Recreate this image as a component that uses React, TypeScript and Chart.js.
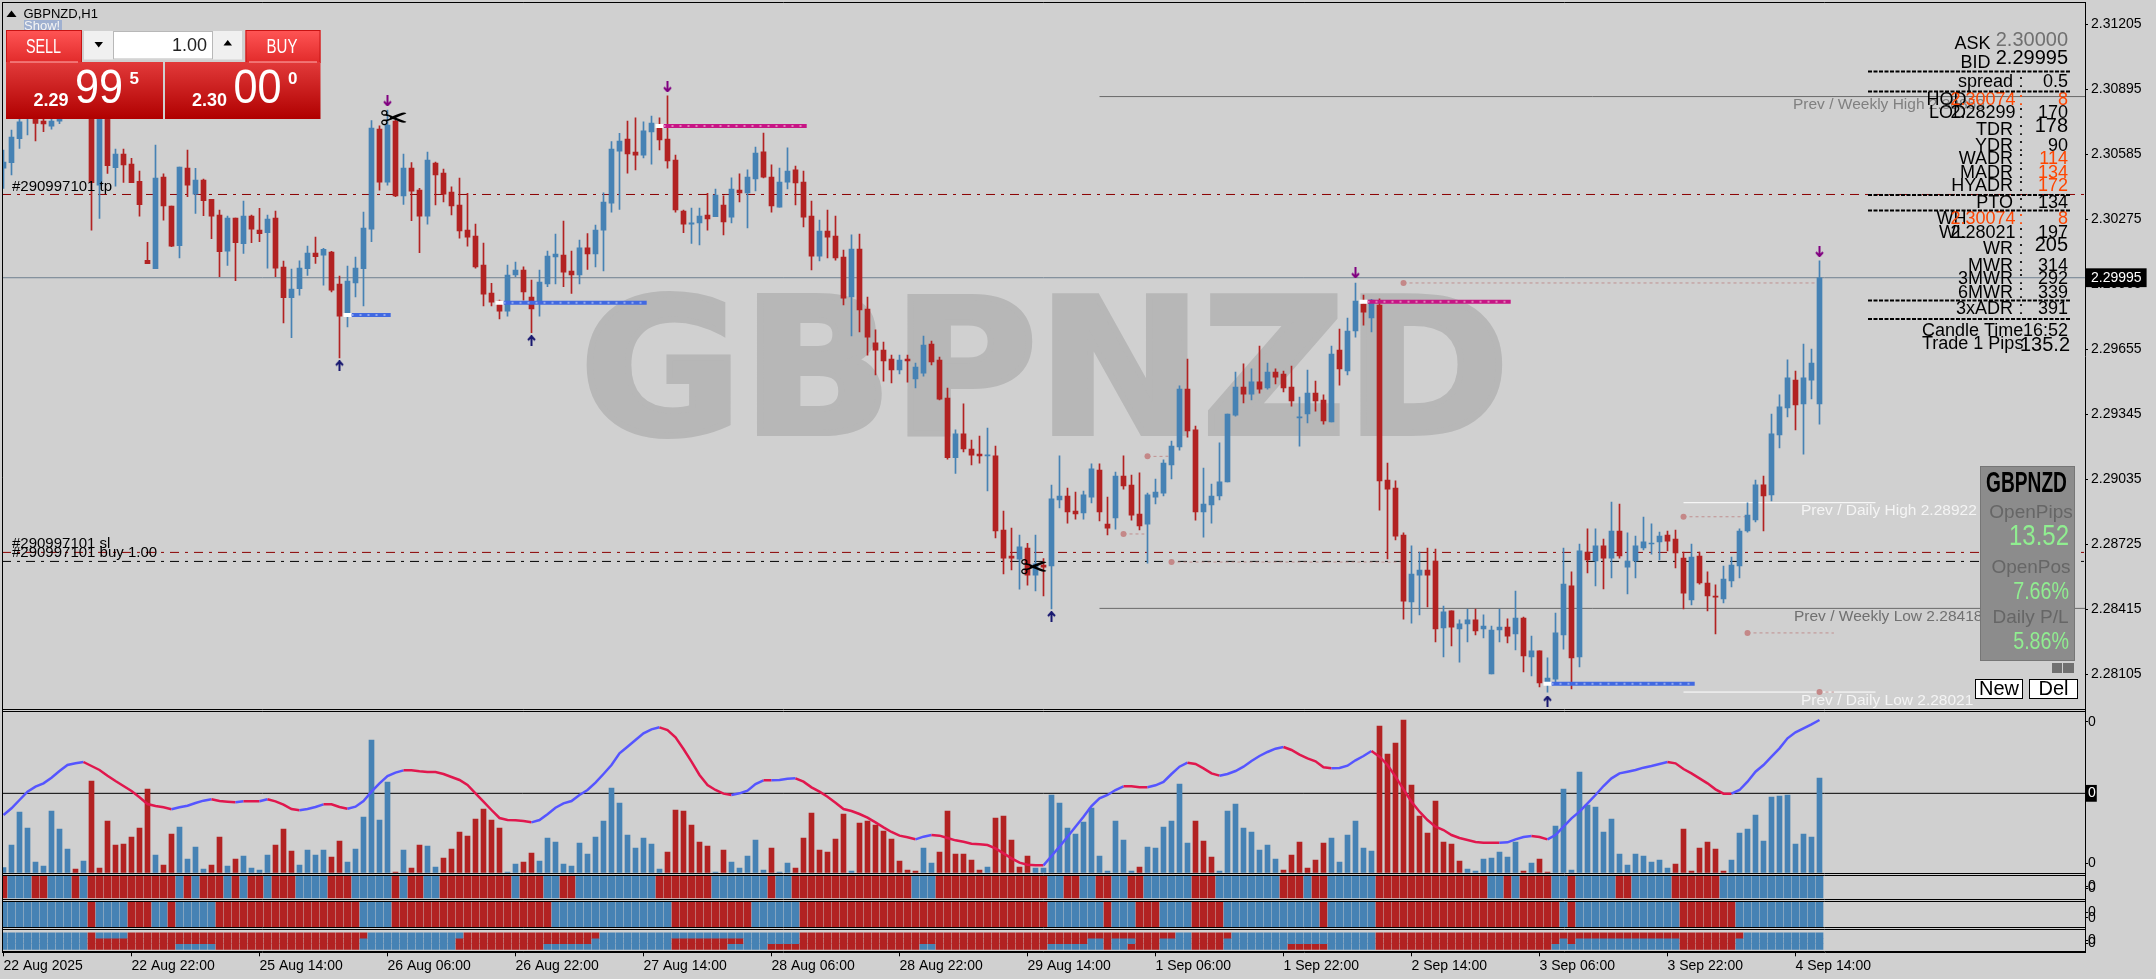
import React, { useEffect, useRef } from "react";
import { Chart, registerables } from "chart.js";
Chart.register(...registerables);

const tickLabels = ["22 Aug 2025","22 Aug 22:00","25 Aug 14:00","26 Aug 06:00","26 Aug 22:00","27 Aug 14:00","28 Aug 06:00","28 Aug 22:00","29 Aug 14:00","1 Sep 06:00","1 Sep 22:00","2 Sep 14:00","3 Sep 06:00","3 Sep 22:00","4 Sep 14:00"];
const priceTicks = [2.31205,2.30895,2.30585,2.30275,2.29965,2.29655,2.29345,2.29035,2.28725,2.28415,2.28105];
const currentPrice = 2.29995;

const opens = [
2.30517,2.30544,2.30658,2.30771,2.30779,2.30742,2.30718,2.30742,2.30790,2.30830,
2.30800,2.30860,2.30437,2.30790,2.30520,2.30585,2.30537,2.30455,2.30078,2.30038,
2.30475,2.30337,2.30148,2.30518,2.30393,2.30461,2.30369,2.30294,2.30122,2.30280,
2.30157,2.30289,2.30222,2.30210,2.30280,2.30046,2.29900,2.29943,2.30038,2.30113,
2.30103,2.30117,2.29965,2.29817,2.29970,2.30038,2.30227,2.30704,2.30451,2.30742,
2.30385,2.30518,2.30413,2.30289,2.30542,2.30494,2.30404,2.30342,2.30222,2.30194,
2.30055,2.29922,2.29884,2.29836,2.30008,2.30032,2.29903,2.29881,2.29965,2.30094,
2.30103,2.30027,2.30008,2.30137,2.30108,2.30222,2.30351,2.30599,2.30656,2.30594,
2.30580,2.30690,2.30718,2.30656,2.30556,2.30313,2.30251,2.30256,2.30294,2.30286,
2.30342,2.30284,2.30413,2.30399,2.30466,2.30595,2.30475,2.30332,2.30451,2.30509,
2.30451,2.30289,2.30098,2.30218,2.30194,2.30094,2.29903,2.30132,2.29846,2.29684,
2.29650,2.29607,2.29555,2.29607,2.29512,2.29540,2.29679,2.29602,2.29421,2.29137,
2.29250,2.29178,2.29154,2.29145,2.29145,2.28792,2.28668,2.28653,2.28706,2.28577,
2.28625,2.28620,2.28935,2.28954,2.28882,2.28873,2.28949,2.29078,2.28820,2.28849,
2.29049,2.29006,2.28868,2.28820,2.28949,2.28968,2.29102,2.29188,2.29464,2.29269,
2.28878,2.28911,2.28954,2.29021,2.29340,2.29474,2.29440,2.29498,2.29469,2.29545,
2.29536,2.29474,2.29326,2.29345,2.29445,2.29412,2.29307,2.29650,2.29550,2.29741,
2.29870,2.29803,2.29865,2.29030,2.28992,2.28768,2.28449,2.28577,2.28601,2.28644,
2.28325,2.28406,2.28320,2.28344,2.28363,2.28320,2.28105,2.28315,2.28329,2.28296,
2.28372,2.28186,2.28215,2.28067,2.28081,2.28291,2.28525,2.28186,2.28687,2.28644,
2.28716,2.28658,2.28787,2.28615,2.28644,2.28706,2.28725,2.28735,2.28768,2.28749,
2.28658,2.28458,2.28668,2.28539,2.28477,2.28463,2.28549,2.28620,2.28787,2.28840,
2.29007,2.28959,2.29245,2.29374,2.29507,2.29393,2.29507,2.29393];
const highs = [
2.30604,2.30699,2.30779,2.30827,2.30803,2.30771,2.30763,2.30820,2.30860,2.30850,
2.30890,2.30880,2.30820,2.30810,2.30609,2.30609,2.30564,2.30504,2.30164,2.30628,
2.30490,2.30337,2.30523,2.30604,2.30517,2.30466,2.30369,2.30318,2.30289,2.30280,
2.30361,2.30294,2.30326,2.30294,2.30313,2.30074,2.30036,2.30076,2.30146,2.30189,
2.30135,2.30121,2.30003,2.30051,2.30094,2.30308,2.30744,2.30720,2.30795,2.30747,
2.30585,2.30544,2.30421,2.30594,2.30547,2.30513,2.30429,2.30470,2.30397,2.30251,
2.30160,2.29968,2.29888,2.30055,2.30070,2.30047,2.29984,2.30032,2.30122,2.30203,
2.30265,2.30122,2.30175,2.30206,2.30246,2.30400,2.30644,2.30684,2.30742,2.30757,
2.30739,2.30766,2.30757,2.30862,2.30580,2.30318,2.30327,2.30327,2.30397,2.30418,
2.30385,2.30471,2.30490,2.30509,2.30618,2.30685,2.30533,2.30518,2.30614,2.30528,
2.30504,2.30361,2.30270,2.30318,2.30289,2.30127,2.30199,2.30203,2.29903,2.29746,
2.29688,2.29626,2.29626,2.29626,2.29588,2.29717,2.29693,2.29617,2.29469,2.29269,
2.29393,2.29221,2.29240,2.29278,2.29192,2.28882,2.28801,2.28768,2.28728,2.28768,
2.28655,2.29006,2.29145,2.28992,2.28973,2.28978,2.29107,2.29107,2.28949,2.29068,
2.29145,2.29054,2.29064,2.28968,2.29035,2.29126,2.29216,2.29479,2.29607,2.29288,
2.29087,2.29011,2.29207,2.29345,2.29545,2.29584,2.29560,2.29669,2.29588,2.29560,
2.29550,2.29574,2.29426,2.29555,2.29502,2.29436,2.29669,2.29750,2.29803,2.29970,
2.29912,2.29892,2.29894,2.29111,2.29026,2.28778,2.28716,2.28687,2.28706,2.28701,
2.28429,2.28406,2.28363,2.28415,2.28415,2.28387,2.28334,2.28415,2.28368,2.28501,
2.28377,2.28286,2.28215,2.28182,2.28396,2.28706,2.28592,2.28725,2.28797,2.28797,
2.28749,2.28925,2.28916,2.28778,2.28763,2.28854,2.28821,2.28782,2.28787,2.28792,
2.28687,2.28725,2.28687,2.28592,2.28530,2.28620,2.28663,2.28797,2.28921,2.29030,
2.29049,2.29345,2.29436,2.29603,2.29550,2.29679,2.29655,2.30075];
const lows = [
2.30421,2.30485,2.30612,2.30676,2.30648,2.30691,2.30703,2.30730,2.30770,2.30780,
2.30770,2.30222,2.30278,2.30493,2.30432,2.30450,2.30448,2.30289,2.30062,2.30038,
2.30270,2.30143,2.30090,2.30381,2.30302,2.30291,2.30181,2.30000,2.30054,2.29981,
2.30111,2.30162,2.30167,2.30041,2.30000,2.29780,2.29709,2.29912,2.30006,2.30063,
2.29960,2.29927,2.29613,2.29760,2.29904,2.29861,2.30167,2.30413,2.30437,2.30381,
2.30345,2.30267,2.30114,2.30251,2.30342,2.30356,2.30294,2.30184,2.30146,2.30041,
2.29860,2.29860,2.29798,2.29812,2.30000,2.29888,2.29733,2.29812,2.29952,2.29965,
2.29952,2.29920,2.29965,2.30035,2.30047,2.30027,2.30308,2.30321,2.30494,2.30509,
2.30566,2.30537,2.30604,2.30518,2.30308,2.30210,2.30159,2.30151,2.30222,2.30286,
2.30199,2.30256,2.30356,2.30232,2.30409,2.30471,2.30308,2.30332,2.30418,2.30342,
2.30237,2.30032,2.30075,2.30089,2.30079,2.29865,2.29717,2.29736,2.29626,2.29531,
2.29502,2.29493,2.29536,2.29497,2.29469,2.29526,2.29579,2.29412,2.29130,2.29062,
2.29164,2.29102,2.29111,2.28978,2.28754,2.28582,2.28601,2.28510,2.28529,2.28501,
2.28477,2.28415,2.28897,2.28825,2.28844,2.28844,2.28921,2.28835,2.28768,2.28796,
2.28987,2.28839,2.28792,2.28634,2.28916,2.28954,2.29035,2.29173,2.29235,2.28839,
2.28758,2.28825,2.28935,2.29021,2.29335,2.29398,2.29412,2.29445,2.29464,2.29488,
2.29450,2.29383,2.29192,2.29302,2.29359,2.29297,2.29307,2.29483,2.29531,2.29712,
2.29769,2.29736,2.28887,2.28654,2.28744,2.28367,2.28348,2.28387,2.28425,2.28258,
2.28186,2.28239,2.28162,2.28258,2.28291,2.28277,2.28105,2.28258,2.28253,2.28220,
2.28115,2.28096,2.28043,2.28019,2.28067,2.28224,2.28034,2.28139,2.28587,2.28525,
2.28511,2.28563,2.28658,2.28487,2.28563,2.28697,2.28677,2.28649,2.28692,2.28611,
2.28415,2.28434,2.28534,2.28406,2.28296,2.28444,2.28520,2.28563,2.28782,2.28830,
2.28787,2.28930,2.29183,2.29331,2.29269,2.29154,2.29417,2.29297];
const closes = [
2.30547,2.30666,2.30739,2.30795,2.30731,2.30728,2.30742,2.30790,2.30830,2.30800,
2.30860,2.30448,2.30790,2.30529,2.30585,2.30533,2.30448,2.30343,2.30062,2.30470,
2.30337,2.30146,2.30523,2.30437,2.30461,2.30362,2.30289,2.30119,2.30280,2.30162,
2.30289,2.30227,2.30205,2.30275,2.30041,2.29900,2.29941,2.30041,2.30113,2.30095,
2.30130,2.29936,2.29812,2.29979,2.30041,2.30232,2.30709,2.30451,2.30723,2.30385,
2.30518,2.30408,2.30289,2.30556,2.30485,2.30394,2.30337,2.30218,2.30189,2.30046,
2.29917,2.29879,2.29836,2.30008,2.30032,2.29927,2.29846,2.29974,2.30098,2.30108,
2.30022,2.30008,2.30137,2.30108,2.30222,2.30356,2.30609,2.30647,2.30585,2.30580,
2.30695,2.30733,2.30652,2.30552,2.30318,2.30251,2.30257,2.30289,2.30275,2.30389,
2.30261,2.30418,2.30399,2.30475,2.30590,2.30475,2.30337,2.30451,2.30504,2.30447,
2.30284,2.30098,2.30218,2.30189,2.30089,2.29898,2.30132,2.29841,2.29712,2.29650,
2.29598,2.29555,2.29602,2.29598,2.29569,2.29674,2.29593,2.29416,2.29137,2.29250,
2.29178,2.29149,2.29145,2.29149,2.28787,2.28658,2.28658,2.28711,2.28577,2.28630,
2.28615,2.28940,2.28954,2.28878,2.28868,2.28959,2.29083,2.28878,2.28801,2.29049,
2.29002,2.28863,2.28811,2.28959,2.28973,2.29111,2.29192,2.29464,2.29264,2.28878,
2.28916,2.28954,2.29021,2.29345,2.29474,2.29440,2.29498,2.29464,2.29545,2.29521,
2.29469,2.29407,2.29331,2.29445,2.29407,2.29312,2.29631,2.29560,2.29741,2.29884,
2.29831,2.29888,2.29026,2.28987,2.28763,2.28453,2.28582,2.28601,2.28577,2.28320,
2.28401,2.28329,2.28344,2.28363,2.28310,2.28334,2.28315,2.28329,2.28286,2.28372,
2.28191,2.28215,2.28062,2.28086,2.28301,2.28534,2.28182,2.28692,2.28649,2.28716,
2.28658,2.28787,2.28668,2.28644,2.28716,2.28735,2.28730,2.28763,2.28739,2.28682,
2.28491,2.28663,2.28539,2.28477,2.28472,2.28558,2.28625,2.28787,2.28863,2.29007,
2.28954,2.29250,2.29379,2.29517,2.29388,2.29517,2.29588,2.29995];

const volumes = [
14,82,181,133,31,19,184,130,70,10,34,274,13,154,82,85,106,133,250,52,
22,115,136,40,76,10,22,106,19,40,49,13,7,52,82,130,64,22,67,52,
67,46,94,31,70,166,397,157,271,1,67,13,82,79,16,43,70,121,109,160,
190,157,133,1,25,31,58,34,103,91,25,19,88,55,106,154,253,208,112,73,
103,85,10,61,187,184,142,91,79,1,67,31,13,49,97,7,73,1,28,13,
103,178,67,61,100,175,4,148,154,142,124,100,34,7,4,73,28,61,184,55,
55,37,7,16,163,169,97,16,49,13,13,232,208,133,115,151,193,49,4,154,
97,4,16,76,73,136,154,265,88,154,94,46,4,184,205,133,121,67,82,40,
7,52,91,13,37,88,103,31,112,154,73,64,439,355,388,457,262,169,118,214,
91,85,34,10,4,40,43,61,46,91,4,28,40,1,139,250,7,301,202,196,
121,160,55,22,55,49,31,37,13,25,130,4,73,91,70,4,37,118,130,172,
94,226,229,232,85,115,106,283];
const volumeRuns = "B9 R1 B1 R8 B1 R2 B4 R2 B1 R1 B4 R3 B4 R2 B6 R1 B1 R2 B2 R8 B2 R2 B16 R6 B1 R1 B5 R1 B2 R7 B1 R8 B2 R6 B1 R5 B13 R1 B6 R3 B8 R6 B6 R11 B7 R1 B1 R2 B15 R7 B12";
const signal = [
172,192,217,242,257,267,284,304,322,327,331,319,307,290,274,259,244,225,205,199,
195,189,195,200,208,215,219,214,212,210,213,213,213,219,213,203,190,186,190,196,
204,204,196,191,197,214,242,267,289,299,306,306,303,301,301,295,286,277,262,237,
212,187,163,157,156,154,150,157,174,194,207,214,232,247,269,295,322,357,377,397,
417,429,435,427,405,370,332,292,262,247,236,232,237,245,265,276,276,277,281,282,
272,255,242,227,209,190,184,175,164,150,135,121,110,105,99,107,112,110,103,96,
92,86,84,82,72,57,42,29,23,21,21,49,77,107,137,167,199,222,232,247,
258,258,255,255,261,271,295,317,329,325,312,297,290,295,304,317,334,349,361,371,
376,367,353,342,333,315,312,313,320,336,349,364,347,322,287,249,212,182,157,137,
127,112,103,97,91,89,89,89,90,99,106,109,106,99,112,137,162,182,207,232,
259,282,297,302,307,314,319,325,331,327,310,297,282,267,249,236,236,247,272,302,
322,347,372,402,420,432,444,457];
const signalZero = 237;
const strip1Runs = "R1 B3 R2 B3 R1 B1 R11 B1 R1 B1 R3 B1 R1 B1 R2 B1 R3 B4 R3 B5 R1 B1 R2 B2 R9 B1 R3 B2 R2 B10 R7 B7 R1 B2 R15 B3 R14 B2 R2 B2 R2 B2 R2 B6 R3 B8 R3 B1 R2 B6 R14 B2 R1 B1 R4 B2 R1 B5 R2 B5 R6 B13";
const strip2Runs = "B11 R1 B4 R3 B2 R1 B5 R18 B4 R20 B15 R10 B6 R31 B7 R1 B3 R3 B4 R4 B12 R1 B6 R23 B1 R1 B13 R7 B11";
const strip3Runs = "11BBB 1RRR 4BRR 6RRR 5RRB 18RRR 1RBB 11BBB 1BRR 10RRR 6RRB 1RBB 9BBB 6BRR 1BRR 2BRB 3BBB 4BBR 15RRR 2RRB 14RRR 5RRB 2RBB 1RRR 2RBB 1RBR 3RRR 2RBB 2BBB 4RRR 1RBB 7BBB 5BBR 6BBB 22RRR 1RRB 1RBB 1RRB 13RBB 7RRR 1RBB 10BBB";

const levelPrices = { tp: 2.30392, sl: 2.28685, buy: 2.28642, weekHigh: 2.30859, weekLow: 2.28418, dayHigh: 2.28922, dayLow: 2.28019 };
const zoneStarts = [43, 62, 82, 170, 193];
const zoneEnds = [48.4, 80.4, 100.4, 188.4, 211.4];
const zonePrices = [2.29817, 2.29876, 2.30719, 2.29881, 2.28059];
const zoneKinds = ["B", "B", "M", "M", "B"];
const gapFrom = [143, 140, 146, 175, 210, 218, 227];
const gapTo = [145.6, 142.6, 174.8, 226.8, 217.7, 228.8, 228.8];
const gapPrices = [2.29143, 2.28773, 2.28639, 2.29970, 2.28855, 2.28301, 2.28019];
const downArrowBars = [48, 83, 169, 227];
const downArrowPrices = [2.30838, 2.30905, 2.30018, 2.30119];
const upArrowBars = [42, 66, 131, 193];
const upArrowPrices = [2.29575, 2.29695, 2.28379, 2.27976];
const closeMarkBars = [48.8, 128.8];
const closeMarkPrices = [2.30744, 2.28601];

const BLUE = "#4682b4", RED = "#b22222", BG = "#d0d0d0";
const SANS = '"Liberation Sans"';
const xMin = -0.1875, xMax = 260.1875;

const expandRuns = (s: string) => s.split(" ").flatMap((r) => Array(parseInt(r.slice(1))).fill(r[0]));
const expandTriple = (s: string) => s.split(" ").flatMap((r) => Array(parseInt(r)).fill(r.replace(/[0-9]/g, "")));
const col = (c: string) => (c === "R" ? RED : BLUE);

function arrowImage(color: string, up: boolean) {
  const c = document.createElement("canvas");
  c.width = 9; c.height = 11;
  const g = c.getContext("2d")!;
  g.strokeStyle = color; g.lineWidth = 2;
  if (!up) { g.translate(0, 11); g.scale(1, -1); }
  g.beginPath(); g.moveTo(4.5, 11); g.lineTo(4.5, 1); g.moveTo(1, 5); g.lineTo(4.5, 1); g.lineTo(8, 5); g.stroke();
  return c;
}

const overlay = {
  id: "overlay",
  beforeDraw(chart: any) {
    const c = chart.ctx;
    c.save(); c.fillStyle = BG; c.fillRect(0, 0, chart.width, chart.height); c.restore();
  },
  beforeDatasetsDraw(chart: any) {
    const c = chart.ctx;
    c.save();
    c.translate(580, 433); c.scale(1.05, 1);
    c.font = 'bold 188px "DejaVu Sans"'; c.fillStyle = "#b7b7b7"; c.strokeStyle = "#b7b7b7"; c.lineWidth = 6; c.lineJoin = "miter";
    c.textAlign = "left"; c.textBaseline = "alphabetic";
    c.fillText("GBPNZD", 0, 0); c.strokeText("GBPNZD", 0, 0);
    c.restore();
  },
  afterDraw(chart: any) {
    const c = chart.ctx;
    const { x, yMain, yVol, yS1, yS2, yS3 } = chart.scales;
    const T = (s: string, px: number, py: number, font: string, color: string, align: any = "left") => {
      c.font = font; c.fillStyle = color; c.textAlign = align; c.textBaseline = "middle"; c.fillText(s, px, py);
    };
    const TX = (s: string, px: number, py: number, font: string, color: string, align: any, sx: number) => {
      c.save(); c.translate(px, py); c.scale(sx, 1); T(s, 0, 0, font, color, align); c.restore();
    };
    const R = (a: number, b: number, w: number, h: number, f: any, s?: string) => {
      c.fillStyle = f; c.fillRect(a, b, w, h);
      if (s) { c.strokeStyle = s; c.lineWidth = 1; c.strokeRect(a + 0.5, b + 0.5, w - 1, h - 1); }
    };
    c.save();
    // pane frames
    c.strokeStyle = "#000"; c.lineWidth = 1;
    const L = 2.5, Rt = chart.chartArea.right;
    const hl = (y: number) => { c.beginPath(); c.moveTo(L, Math.round(y) + 0.5); c.lineTo(Rt, Math.round(y) + 0.5); c.stroke(); };
    hl(yMain.top);
    [yMain.bottom, yVol.bottom, yS1.bottom, yS2.bottom].forEach((b: number) => { hl(b - 1.5); hl(b + 0.7); });
    hl(yS3.bottom - 1);
    c.beginPath(); c.moveTo(L, yMain.top); c.lineTo(L, yS3.bottom); c.stroke();

    // close marks
    closeMarkBars.forEach((b, i) => {
      T("\u2702", x.getPixelForValue(b), yMain.getPixelForValue(closeMarkPrices[i]), '34px "DejaVu Sans"', "#000", "center");
    });

    // trade labels
    T("#290997101 tp", 12, 187, `15px ${SANS}`, "#000");
    T("#290997101 sl", 12, 544, `15px ${SANS}`, "#000");
    T("#290997101 buy 1.00", 12, 553, `15px ${SANS}`, "#000");

    // previous level labels
    T("Prev / Weekly High 2.30859", 1793, 105, `15.5px ${SANS}`, "#808080");
    T("Prev / Daily High 2.28922", 1801, 511, `15.5px ${SANS}`, "#f4f4f4");
    T("Prev / Weekly Low 2.28418", 1794, 617, `15.5px ${SANS}`, "#707070");
    T("Prev / Daily Low 2.28021", 1801, 701, `15.5px ${SANS}`, "#f4f4f4");

    // info block
    const F18 = `18px ${SANS}`, F20 = `20px ${SANS}`, ORG = "#ff4500";
    T("ASK", 1990.5, 44, F18, "#000", "right"); T("2.30000", 2068, 40, F20, "#707070", "right");
    T("BID", 1990.5, 63, F18, "#000", "right"); T("2.29995", 2068, 58, F20, "#000", "right");
    const rows: [string, number, string, string][] = [
      ["spread", 81, "0.5", "#000"], ["TDR", 129, "178", "#000"], ["YDR", 145, "90", "#000"],
      ["WADR", 158, "114", ORG], ["MADR", 172, "134", ORG], ["HYADR", 185, "172", ORG], ["PTO", 202, "134", "#000"],
      ["WR", 248, "205", "#000"], ["MWR", 265, "314", "#000"], ["3MWR", 278, "292", "#000"], ["6MWR", 292, "339", "#000"], ["3xADR", 308, "391", "#000"],
    ];
    rows.forEach(([l, y, v, col2]) => {
      T(l, 2013, y + 1, F18, "#000", "right"); T(":", 2021, y + 1, F18, "#000", "center");
      T(v, 2068, v === "178" || v === "205" ? y - 3 : y + 1, v === "178" || v === "205" ? F20 : F18, col2, "right");
    });
    const rows2: [string, number, number, string, string, string][] = [
      ["HOD", 1926.5, 99, "2.30074", "8", ORG], ["LOD", 1929, 112, "2.28299", "170", "#000"],
      ["WH", 1936.5, 218, "2.30074", "8", ORG], ["WL", 1939, 232, "2.28021", "197", "#000"],
    ];
    rows2.forEach(([l, lx, y, m2, v, col2]) => {
      T(l, lx, y + 1, F18, "#000"); T(m2, 2015.5, y + 1, F18, col2, "right");
      T(":", 2021, y + 1, F18, col2, "center"); T(v, 2068, y + 1, F18, col2, "right");
    });
    c.strokeStyle = "#000"; c.lineWidth = 2; c.setLineDash([4, 1.5]);
    [71.5, 91.5, 195, 210.5, 300.5, 319].forEach((y) => { c.beginPath(); c.moveTo(1868, y); c.lineTo(2070, y); c.stroke(); });
    c.setLineDash([]);
    T("Candle Time", 1922, 331, F18, "#000"); T("16:52", 2068, 331, F18, "#000", "right");
    T("Trade 1 Pips", 1922, 344, F18, "#000"); T("135.2", 2070, 345, F20, "#000", "right");

    // stats box
    R(1980, 466, 95, 195, "#8c8c8c", "#767676");
    TX("GBPNZD", 2026.5, 484, `bold 29px ${SANS}`, "#000", "center", 0.66);
    T("OpenPips", 2031, 513, `19px ${SANS}`, "#666", "center");
    TX("13.52", 2069, 537, `30px ${SANS}`, "#90ee90", "right", 0.8);
    T("OpenPos", 2031, 568, `19px ${SANS}`, "#666", "center");
    TX("7.66%", 2069, 592, `24px ${SANS}`, "#90ee90", "right", 0.82);
    T("Daily P/L", 2068.5, 618, `19px ${SANS}`, "#666", "right");
    TX("5.86%", 2069, 642, `24px ${SANS}`, "#90ee90", "right", 0.82);
    R(2052, 663, 10, 10, "#707070"); R(2063, 663, 11, 10, "#707070");
    R(1975, 679, 48, 20, "#fff", "#000"); R(2029, 679, 49, 20, "#fff", "#000");
    T("New", 1999, 689.5, `20px ${SANS}`, "#000", "center");
    T("Del", 2053.5, 689.5, `20px ${SANS}`, "#000", "center");

    // title
    c.fillStyle = "#000"; c.beginPath(); c.moveTo(6.5, 17); c.lineTo(16.5, 17); c.lineTo(11.5, 10.5); c.closePath(); c.fill();
    T("GBPNZD,H1", 23.5, 14, `13px ${SANS}`, "#000");
    R(24, 20, 38, 12, "#9fb0d0"); T("Show!", 24, 26, `13px ${SANS}`, "#f4f4f4");

    // trade panel
    const grad = (y0: number, y1: number, a: string, b: string) => { const g = c.createLinearGradient(0, y0, 0, y1); g.addColorStop(0, a); g.addColorStop(1, b); return g; };
    R(6, 30, 76, 33, grad(30, 62, "#ff5555", "#e22b2b"), "#c81414");
    R(245.5, 30, 75, 33, grad(30, 62, "#ff5555", "#e22b2b"), "#c81414");
    R(6, 62, 157, 57, grad(62, 119, "#e23a3a", "#b00000"));
    R(165, 62, 155.5, 57, grad(62, 119, "#e23a3a", "#b00000"));
    R(10, 61.5, 68, 1, "#ffb0b0"); R(249, 61.5, 68, 1, "#ffb0b0");
    R(84, 31, 158, 28.5, "#f0f0f0"); R(113, 31, 100, 28.5, "#fff", "#b8b8b8");
    T("1.00", 207, 46, `18px ${SANS}`, "#222", "right");
    c.fillStyle = "#000";
    c.beginPath(); c.moveTo(94.5, 42); c.lineTo(103, 42); c.lineTo(98.7, 47.5); c.closePath(); c.fill();
    c.beginPath(); c.moveTo(223.5, 45.5); c.lineTo(232, 45.5); c.lineTo(227.7, 40); c.closePath(); c.fill();
    TX("SELL", 43.5, 47, `20px ${SANS}`, "#fff", "center", 0.72);
    TX("BUY", 282, 47, `20px ${SANS}`, "#fff", "center", 0.75);
    T("2.29", 33.5, 101, `bold 18px ${SANS}`, "#fff");
    TX("99", 75, 90, `48px ${SANS}`, "#fff", "left", 0.9);
    T("5", 129.5, 79, `bold 17px ${SANS}`, "#fff");
    T("2.30", 192, 101, `bold 18px ${SANS}`, "#fff");
    TX("00", 233.5, 90, `48px ${SANS}`, "#fff", "left", 0.9);
    T("0", 288, 79, `bold 17px ${SANS}`, "#fff");
    c.restore();
  },
};

const yBase = (extra: any, tickVals: number[]) => ({
  type: "linear",
  position: "right",
  stack: "panes",
  grid: { drawOnChartArea: false, drawTicks: true, tickLength: 3, color: "#000" },
  border: { display: true, color: "#000" },
  afterBuildTicks: (s: any) => { s.ticks = tickVals.map((v) => ({ value: v })); },
  afterFit: (s: any) => { s.width = 71; s.paddingTop = 0; s.paddingBottom = 0; },
  ...extra,
});

export default function App() {
  const ref = useRef<HTMLCanvasElement>(null);
  useEffect(() => {
    const idx = opens.map((_, i) => i);
    const candleColors = idx.map((i) => (closes[i] >= opens[i] ? BLUE : RED));
    const barDs = (data: any[], colors: any, thick: number, yAxisID: string, order: number, extra: any = {}) => ({
      type: "bar", data, backgroundColor: colors, barThickness: thick, grouped: false, borderWidth: 0, borderSkipped: false,
      xAxisID: "x", yAxisID, order, ...extra,
    });
    const seg = (a: number, b: number, y: number, color: string, width: number, yAxisID: string, order: number, dash: number[] = []) => ({
      type: "line", data: [{ x: a, y }, { x: b, y }], borderColor: color, borderWidth: width, borderDash: dash,
      pointRadius: 0, xAxisID: "x", yAxisID, order,
    });
    const dashDot = [9, 6, 3, 6];
    const datasets: any[] = [
      seg(xMin, xMax, levelPrices.tp, "#8b0000", 1, "yMain", 30, dashDot),
      seg(xMin, xMax, levelPrices.sl, "#8b0000", 1, "yMain", 30, dashDot),
      seg(xMin, xMax, levelPrices.buy, "#000000", 1, "yMain", 30, dashDot),
      seg(137, xMax, levelPrices.weekHigh, "#696969", 1, "yMain", 30),
      seg(137, xMax, levelPrices.weekLow, "#696969", 1, "yMain", 30),
      seg(xMin, xMax, currentPrice, "#708090", 1, "yMain", 30),
      seg(210, 234, levelPrices.dayHigh, "#ffffff", 1, "yMain", 30),
      seg(210, 234, levelPrices.dayLow, "#ffffff", 1, "yMain", 30),
      seg(xMin, xMax, signalZero, "#000000", 1, "yVol", 30),
    ];
    gapFrom.forEach((b, i) => {
      datasets.push({
        type: "line", data: [{ x: b, y: gapPrices[i] }, { x: gapTo[i], y: gapPrices[i] }], borderColor: "#c09090", borderWidth: 1, borderDash: [3, 3],
        pointRadius: [3, 0], pointBackgroundColor: "#c48888", pointBorderWidth: 0, xAxisID: "x", yAxisID: "yMain", order: 8,
      });
    });
    datasets.push(barDs(idx.map((i) => ({ x: i, y: [lows[i], highs[i]] })), candleColors, 1, "yMain", 6));
    datasets.push(barDs(idx.map((i) => ({ x: i, y: [opens[i], closes[i]] })), candleColors, 5, "yMain", 5, { minBarLength: 1 }));
    zoneStarts.forEach((s, i) => {
      const mag = zoneKinds[i] === "M";
      datasets.push(seg(s - 0.5, s + 0.5, zonePrices[i], "#ffffff", 4, "yMain", 4));
      datasets.push(seg(s + 0.5, zoneEnds[i], zonePrices[i], mag ? "#c71585" : "#4169e1", 4, "yMain", 4));
      datasets.push(seg(s + 0.5, zoneEnds[i], zonePrices[i], mag ? "#e080b8" : "#90a8f0", 2, "yMain", 3, [2, 6]));
    });
    datasets.push({
      type: "line", showLine: false, data: downArrowBars.map((b, i) => ({ x: b, y: downArrowPrices[i] })),
      pointStyle: arrowImage("#800080", false), xAxisID: "x", yAxisID: "yMain", order: 2,
    });
    datasets.push({
      type: "line", showLine: false, data: upArrowBars.map((b, i) => ({ x: b, y: upArrowPrices[i] })),
      pointStyle: arrowImage("#191970", true), xAxisID: "x", yAxisID: "yMain", order: 2,
    });
    datasets.push(barDs(idx.map((i) => ({ x: i, y: volumes[i] })), expandRuns(volumeRuns).map(col), 5, "yVol", 7));
    datasets.push({
      type: "line", data: idx.map((i) => ({ x: i, y: signal[i] })), borderColor: "#5555ff", borderWidth: 2.5, pointRadius: 0, tension: 0,
      segment: { borderColor: (ctx: any) => (ctx.p1.parsed.y > ctx.p0.parsed.y ? "#5555ff" : "#e0174d") },
      xAxisID: "x", yAxisID: "yVol", order: 1,
    });
    datasets.push(barDs(idx.map((i) => ({ x: i, y: [0, 1] })), expandRuns(strip1Runs).map(col), 7, "yS1", 7));
    datasets.push(barDs(idx.map((i) => ({ x: i, y: [0, 1] })), expandRuns(strip2Runs).map(col), 7, "yS2", 7));
    const tri = expandTriple(strip3Runs);
    [0, 1, 2].forEach((lvl) => {
      datasets.push(barDs(idx.map((i) => ({ x: i, y: [2 - lvl, 3 - lvl] })), tri.map((t: string) => col(t[lvl])), 7, "yS3", 7));
    });

    const axisFont = { family: SANS, size: 14 };
    const chart = new Chart(ref.current!, {
      type: "bar",
      data: { datasets },
      plugins: [overlay],
      options: {
        responsive: false,
        animation: false,
        devicePixelRatio: 1,
        events: [],
        layout: { autoPadding: false, padding: { top: 2, left: 2, right: 0, bottom: 0 } },
        plugins: { legend: { display: false }, tooltip: { enabled: false } },
        scales: {
          x: {
            type: "linear", min: xMin, max: xMax, offset: false,
            grid: { offset: false, drawOnChartArea: false, drawTicks: true, tickLength: 4, color: "#000" },
            border: { display: true, color: "#000" },
            ticks: {
              autoSkip: false, maxRotation: 0, minRotation: 0, align: "start", color: "#000", padding: 1,
              font: axisFont,
              callback: (_v: any, i: number) => tickLabels[i],
            },
            afterBuildTicks: (s: any) => { s.ticks = tickLabels.map((_, k) => ({ value: 16 * k })); },
            afterFit: (s: any) => { s.height = 26.7; s.paddingLeft = 0; s.paddingRight = 0; },
          },
          yMain: yBase({
            stackWeight: 708.5, weight: 1,
            min: 2.27931, max: 2.3131,
            ticks: {
              autoSkip: false, font: axisFont, padding: 3,
              color: (ctx: any) => (ctx.tick && ctx.tick.value === currentPrice ? "#fff" : "#000"),
              showLabelBackdrop: (ctx: any) => !!ctx.tick && ctx.tick.value === currentPrice,
              backdropColor: "#000", backdropPadding: { left: 5, right: 5, top: 1, bottom: 1 },
              callback: (v: number) => v.toFixed(5),
            },
          }, [...priceTicks, currentPrice]),
          yVol: yBase({
            stackWeight: 163.7, weight: 2,
            min: -5.6, max: 485.5,
            ticks: {
              autoSkip: false, font: axisFont, padding: 0,
              color: (ctx: any) => (ctx.tick && ctx.tick.value === signalZero ? "#fff" : "#000"),
              showLabelBackdrop: (ctx: any) => !!ctx.tick && ctx.tick.value === signalZero,
              backdropColor: "#000", backdropPadding: { left: 2, right: 1, top: 0, bottom: 0 },
              callback: () => "0",
            },
          }, [452, 27, signalZero]),
          yS1: yBase({ stackWeight: 25.8, weight: 3, min: -0.09, max: 1.067, ticks: { autoSkip: false, font: axisFont, padding: 0, color: "#000", callback: () => "0" } }, [0.42, 0.52]),
          yS2: yBase({ stackWeight: 28.3, weight: 4, min: -0.064, max: 1.068, ticks: { autoSkip: false, font: axisFont, padding: 0, color: "#000", callback: () => "0" } }, [0.36, 0.58]),
          yS3: yBase({ stackWeight: 24, weight: 5, min: -0.54, max: 3.8, ticks: { autoSkip: false, font: axisFont, padding: 0, color: "#000", callback: () => "0" } }, [1.1, 1.6]),
        },
      } as any,
    } as any);
    return () => chart.destroy();
  }, []);
  return (
    <canvas
      ref={ref}
      width={2156}
      height={979}
      style={{ position: "absolute", left: 0, top: 0, display: "block", width: 2156, height: 979 }}
    />
  );
}
